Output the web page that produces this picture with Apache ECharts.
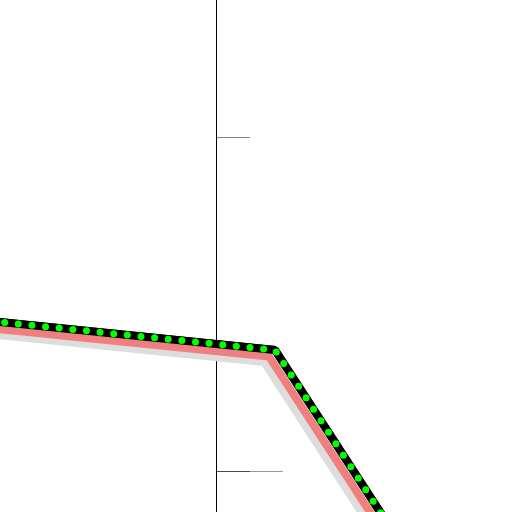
<!DOCTYPE html>
<html>
<head>
<meta charset="utf-8">
<script src="https://cdn.jsdelivr.net/npm/echarts@6/dist/echarts.min.js"></script>
<style>html,body{margin:0;padding:0;background:#fff}#c{width:512px;height:512px}</style>
</head>
<body>
<div id="c"></div>
<script>
var xValues = [-100, 17.7, 54.6];
var yValues = [48.2, 36.2, -20.7];
var majorTicks = [0, 100];
var longTicks = [0];

var points = xValues.map(function (x, i) { return [x, yValues[i]]; });

var chart = echarts.init(document.getElementById('c'), null, {renderer: 'canvas'});
var common = {
  type: 'line', data: points, showSymbol: false, symbol: 'none',
  animation: false, silent: true, clip: false
};
chart.setOption({
  animation: false,
  grid: {left: -118, right: -38, top: -197, bottom: -293, containLabel: false, outerBoundsMode: 'none'},
  xAxis: {
    type: 'value', min: -100, max: 100, interval: 100,
    axisLine: {show: false}, axisTick: {show: false}, axisLabel: {show: false}, splitLine: {show: false}
  },
  yAxis: [{
    type: 'value', min: -100, max: 200, interval: 100, position: 'left',
    axisLine: {show: true, onZero: true, lineStyle: {color: '#000', width: 1}},
    axisTick: {show: true, inside: true, length: 34, customValues: majorTicks, lineStyle: {color: 'rgba(0,0,0,0.5)', width: 1}},
    axisLabel: {show: false}, splitLine: {show: false}
  }, {
    type: 'value', min: -100, max: 200, interval: 100, position: 'left', offset: -334,
    axisLine: {show: false, onZero: false},
    axisTick: {show: true, inside: true, length: 67, customValues: longTicks, lineStyle: {color: 'rgba(0,0,0,0.4)', width: 1}},
    axisLabel: {show: false}, splitLine: {show: false}
  }],
  series: [
    Object.assign({}, common, {
      z: 1,
      lineStyle: {color: '#000', width: 8, shadowColor: '#dddddd', shadowBlur: 0, shadowOffsetX: -11, shadowOffsetY: 12}
    }),
    Object.assign({}, common, {
      z: 2,
      lineStyle: {color: '#000', width: 8, shadowColor: '#f08080', shadowBlur: 0, shadowOffsetX: -6, shadowOffsetY: 6.5}
    }),
    Object.assign({}, common, {
      z: 3,
      lineStyle: {color: '#00ff00', width: 7, type: [0, 13.7], cap: 'round', join: 'round'}
    })
  ]
});
</script>
</body>
</html>
